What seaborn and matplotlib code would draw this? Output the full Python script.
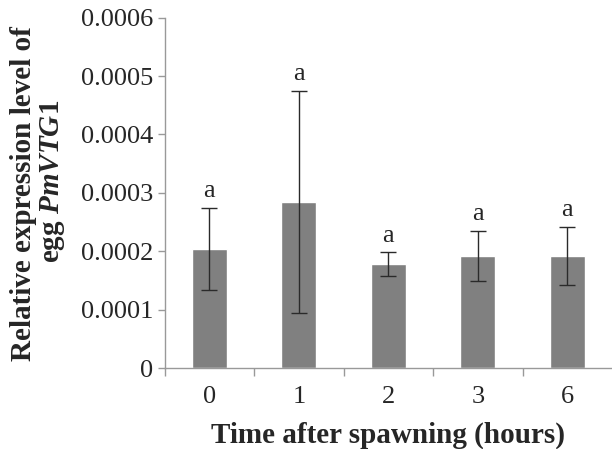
import numpy as np
import pandas as pd
import matplotlib
matplotlib.use("Agg")
import matplotlib.pyplot as plt
import seaborn as sns

# data
hours = ["0", "1", "2", "3", "6"]
expression = [0.000204, 0.000285, 0.000178, 0.000192, 0.000192]
err = [0.0000705, 0.000190, 0.0000205, 0.0000435, 0.0000500]
letters = ["a", "a", "a", "a", "a"]

df = pd.DataFrame({"hours": hours, "expression": expression})

sns.set_style("white")
plt.rcParams["font.family"] = ["Liberation Serif", "DejaVu Serif"]
plt.rcParams["mathtext.fontset"] = "custom"
plt.rcParams["mathtext.rm"] = "Liberation Serif:bold"
plt.rcParams["mathtext.it"] = "Liberation Serif:italic:bold"
plt.rcParams["mathtext.bf"] = "Liberation Serif:bold"

fig = plt.figure(figsize=(6.12, 4.49), dpi=100)
ax = fig.add_axes([0.269, 0.1804, 0.731, 0.7802])

sns.barplot(data=df, x="hours", y="expression", color="#808080",
            saturation=1, width=0.39, ax=ax, errorbar=None)

pos = np.arange(len(hours))
ax.errorbar(pos, expression, yerr=err, fmt="none", ecolor="#2a2a2a",
            elinewidth=1, capsize=5.5, capthick=1)

for x, y, e, t in zip(pos, expression, err, letters):
    ax.annotate(t, (x, y + e), xytext=(0, 4), textcoords="offset points",
                ha="center", va="bottom", fontsize=19)

ax.set_xlim(-0.5, len(hours) - 0.5)
ax.set_ylim(0, 0.0006)
ax.set_yticks(np.arange(0, 0.00061, 0.0001))
ax.set_yticklabels(["0", "0.0001", "0.0002", "0.0003", "0.0004", "0.0005", "0.0006"])
ax.set_xticks(pos, minor=False)
ax.set_xticks(np.arange(-0.5, len(hours) - 0.5, 1), minor=True)

ax.tick_params(axis="x", which="major", length=0, labelsize=19, pad=13)
ax.tick_params(axis="x", which="minor", length=6, color="#999999", width=1, direction="out", bottom=True)
ax.tick_params(axis="y", length=5, color="#999999", width=1, direction="out", labelsize=19, left=True, pad=3)

sns.despine(ax=ax)
for s in ["left", "bottom"]:
    ax.spines[s].set_color("#999999")
    ax.spines[s].set_linewidth(1)

ax.set_xlabel("Time after spawning (hours)", fontsize=21, fontweight="bold", labelpad=10)
ax.set_ylabel("")

fig.text(0.038, 0.568, "Relative expression level of", rotation=90,
         ha="center", va="center", fontsize=21, fontweight="bold")
fig.text(0.085, 0.595, "egg $\\mathit{PmVTG1}$", rotation=90,
         ha="center", va="center", fontsize=21, fontweight="bold")

fig.savefig("out.png", dpi=100)
